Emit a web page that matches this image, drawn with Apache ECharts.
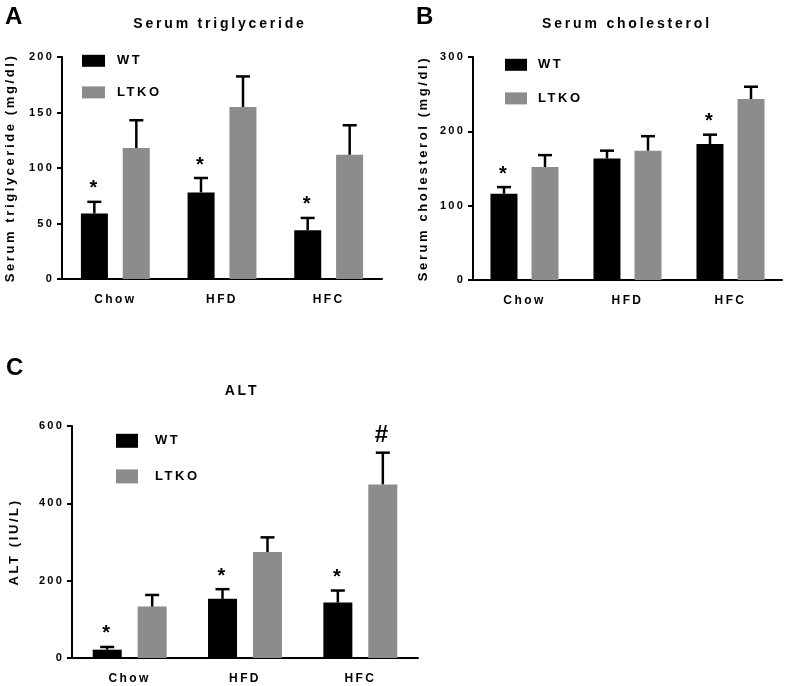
<!DOCTYPE html>
<html>
<head>
<meta charset="utf-8">
<script src="https://cdn.jsdelivr.net/npm/echarts@6/dist/echarts.min.js"></script>
<style>html,body{margin:0;padding:0;background:#fff}#c{width:787px;height:686px}</style>
</head>
<body>
<div id="c"></div>
<script>
// ---------- data ----------
const categories = ['Chow', 'HFD', 'HFC'];
const seriesNames = ['WT', 'LTKO'];

const tgWT = [59, 78, 44];
const tgWTsem = [10.5, 13, 11];
const tgKO = [118, 155, 112];
const tgKOsem = [25, 27.5, 26.5];
const tgWTsig = ['*', '*', '*'];
const tgKOsig = ['', '', ''];

const cholWT = [116, 163.5, 183];
const cholWTsem = [9, 10.5, 12.5];
const cholKO = [152, 174, 243.5];
const cholKOsem = [16, 19.5, 16.5];
const cholWTsig = ['*', '', '*'];
const cholKOsig = ['', '', ''];

const altWT = [21.5, 153, 143.5];
const altWTsem = [7, 25, 31];
const altKO = [133, 274, 449];
const altKOsem = [30, 38, 82];
const altWTsig = ['*', '*', '*'];
const altKOsig = ['', '', '#'];

const tgTicks = {min: 0, max: 200, interval: 50};
const cholTicks = {min: 0, max: 300, interval: 100};
const altTicks = {min: 0, max: 600, interval: 200};

// ---------- letter spacing (text stays real text) ----------
const LS = 0.2;
function lsFor(font) {
  const m = /(\d+(?:\.\d+)?)px/.exec(font || '');
  return m ? (parseFloat(m[1]) * LS).toFixed(2) + 'px' : '0px';
}
(function () {
  const P = CanvasRenderingContext2D.prototype;
  if (!('letterSpacing' in P)) return;
  const of = P.fillText, om = P.measureText;
  P.fillText = function (t, x, y, w) {
    this.letterSpacing = lsFor(this.font);
    return w === undefined ? of.call(this, t, x, y) : of.call(this, t, x, y, w);
  };
  P.measureText = function (t) {
    this.letterSpacing = lsFor(this.font);
    return om.call(this, t);
  };
})();

// ---------- helpers ----------
const FF = '"Liberation Sans", Arial, Helvetica, sans-serif';
const BLACK = '#000000';
const GREY = '#8c8c8c';

function errData(mean, sem) {
  return mean.map((m, i) => [i, m + sem[i], m]);
}

function errRender(sig, off, capW, sigDy) {
  return function (params, api) {
    const i = api.value(0);
    const top = api.coord([i, api.value(1)]);
    const base = api.coord([i, api.value(2)]);
    const x = top[0] + off;
    const children = [
      {type: 'line', shape: {x1: x, y1: base[1], x2: x, y2: top[1]}, style: {stroke: BLACK, lineWidth: 2.5}},
      {type: 'line', shape: {x1: x - capW / 2, y1: top[1], x2: x + capW / 2, y2: top[1]}, style: {stroke: BLACK, lineWidth: 2.5}}
    ];
    const s = sig[params.dataIndex];
    if (s) {
      children.push({
        type: 'text',
        style: {text: s, x: x + 1, y: top[1] - (s === '#' ? 17 : sigDy), align: 'center', verticalAlign: 'middle',
                textAlign: 'center', textVerticalAlign: 'middle', font: s === '#' ? 'bold 24px ' + FF : 'bold 20px ' + FF, fill: BLACK}
      });
    }
    return {type: 'group', children: children};
  };
}

function xAxis(gi) {
  return {
    type: 'category', gridIndex: gi, data: categories,
    axisLine: {lineStyle: {color: BLACK, width: 2}},
    axisTick: {alignWithLabel: true, length: 5, lineStyle: {color: BLACK, width: 2}},
    axisLabel: {color: BLACK, fontFamily: FF, fontWeight: 'bold', fontSize: 12, margin: 13}
  };
}
function yAxis(gi, ticks, name, gap) {
  return {
    type: 'value', gridIndex: gi, min: ticks.min, max: ticks.max, interval: ticks.interval,
    name: name, nameLocation: 'middle', nameGap: gap,
    nameTextStyle: {color: BLACK, fontFamily: FF, fontWeight: 'bold', fontSize: 13},
    axisLine: {show: true, lineStyle: {color: BLACK, width: 2}},
    axisTick: {show: true, length: 5, lineStyle: {color: BLACK, width: 2}},
    axisLabel: {color: BLACK, fontFamily: FF, fontWeight: 'bold', fontSize: 11, margin: 8},
    splitLine: {show: false}
  };
}
function bars(gi, wt, ko, bw, gap) {
  return [
    {name: 'WT', type: 'bar', xAxisIndex: gi, yAxisIndex: gi, data: wt, barWidth: bw, barGap: gap,
     itemStyle: {color: BLACK}, z: 2, animation: false},
    {name: 'LTKO', type: 'bar', xAxisIndex: gi, yAxisIndex: gi, data: ko, barWidth: bw, barGap: gap,
     itemStyle: {color: GREY}, z: 2, animation: false}
  ];
}
function errs(gi, wt, wtSem, ko, koSem, wtSig, koSig, off) {
  return [
    {type: 'custom', xAxisIndex: gi, yAxisIndex: gi, data: errData(wt, wtSem), encode: {x: 0, y: 1},
     renderItem: errRender(wtSig, -off, 14, 13), z: 5, animation: false, silent: true},
    {type: 'custom', xAxisIndex: gi, yAxisIndex: gi, data: errData(ko, koSem), encode: {x: 0, y: 1},
     renderItem: errRender(koSig, off, 14, 13), z: 5, animation: false, silent: true}
  ];
}
function legend(left, top, iw, ih, gap, tpad) {
  return {
    data: seriesNames, orient: 'vertical', left: left, top: top, padding: 0,
    itemWidth: iw, itemHeight: ih, itemGap: gap, icon: 'rect', selectedMode: false,
    textStyle: {color: BLACK, fontFamily: FF, fontWeight: 'bold', fontSize: 13, padding: [0, 0, 0, tpad]}
  };
}
function label(text, x, y, font) {
  return {type: 'text', x: x, y: y,
    style: {text: text, x: 0, y: 0, align: 'center', verticalAlign: 'middle', textAlign: 'center',
            textVerticalAlign: 'middle', font: font, fill: BLACK}};
}

const chart = echarts.init(document.getElementById('c'), null, {renderer: 'canvas'});
chart.setOption({
  animation: false,
  backgroundColor: '#ffffff',
  grid: [
    {left: 62, top: 57, width: 320, height: 222},
    {left: 473, top: 57, width: 309, height: 223},
    {left: 72, top: 426, width: 346, height: 232}
  ],
  xAxis: [xAxis(0), xAxis(1), xAxis(2)],
  yAxis: [
    yAxis(0, tgTicks, 'Serum triglyceride (mg/dl)', 44),
    yAxis(1, cholTicks, 'Serum cholesterol (mg/dl)', 42),
    yAxis(2, altTicks, 'ALT (IU/L)', 50)
  ],
  legend: [
    legend(82, 53, 23, 12, 16, 7),
    legend(505, 57, 22, 12, 18, 6),
    legend(116, 433, 22, 14, 20, 12)
  ],
  series: [].concat(
    bars(0, tgWT, tgKO, 27, '55%'),
    bars(1, cholWT, cholKO, 27, '52%'),
    bars(2, altWT, altKO, 29, '55%'),
    errs(0, tgWT, tgWTsem, tgKO, tgKOsem, tgWTsig, tgKOsig, 21),
    errs(1, cholWT, cholWTsem, cholKO, cholKOsem, cholWTsig, cholKOsig, 20.5),
    errs(2, altWT, altWTsem, altKO, altKOsem, altWTsig, altKOsig, 22.5)
  ),
  graphic: [
    label('A', 16, 17, 'bold 24px ' + FF),
    label('B', 427, 17, 'bold 24px ' + FF),
    label('C', 17, 368, 'bold 24px ' + FF),
    label('Serum triglyceride', 220, 24, 'bold 14px ' + FF),
    label('Serum cholesterol', 627, 24, 'bold 14px ' + FF),
    label('ALT', 242, 391, 'bold 14px ' + FF)
  ]
});
</script>
</body>
</html>
